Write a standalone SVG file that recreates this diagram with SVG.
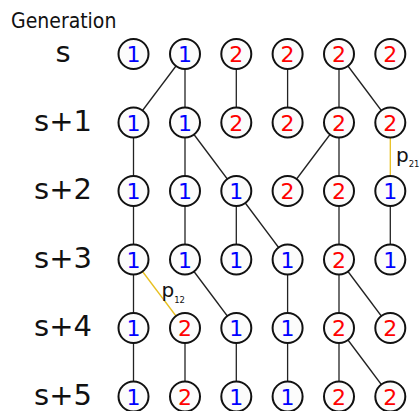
<svg xmlns="http://www.w3.org/2000/svg" width="420" height="411" viewBox="0 0 420 411">
<style>
.n circle{fill:#fcfcfc;stroke:#111;stroke-width:2}
.n text{font-family:"DejaVu Sans",sans-serif;font-size:22px;text-anchor:middle}
.b text{fill:#0000ff}
.r text{fill:#ff0000}
.lbl{font-family:"DejaVu Sans",sans-serif;font-size:29px;text-anchor:middle;fill:#111}
.e{stroke:#222;stroke-width:1.3;fill:none}
.y{stroke:#e8c020;stroke-width:1.3;fill:none}
.p{font-family:"DejaVu Sans",sans-serif;font-size:20px;fill:#111}
.sub{font-size:8.5px}
</style>
<rect width="420" height="411" fill="#fff"/>
<text x="11" y="28" font-family="DejaVu Sans Condensed, DejaVu Sans, sans-serif" font-stretch="condensed" font-size="21" fill="#111">Generation</text>
<g id="labels">
<text class="lbl" x="63" y="62">s</text>
<text class="lbl" x="63" y="130.5">s+1</text>
<text class="lbl" x="63" y="199">s+2</text>
<text class="lbl" x="63" y="267.5">s+3</text>
<text class="lbl" x="63" y="336">s+4</text>
<text class="lbl" x="63" y="404.5">s+5</text>
</g>
<g id="connectors">
<!-- s -> s+1 -->
<line class="e" x1="185" y1="54" x2="133.5" y2="122.5"/>
<line class="e" x1="185" y1="54" x2="185" y2="122.5"/>
<line class="e" x1="236.3" y1="54" x2="236.3" y2="122.5"/>
<line class="e" x1="287.6" y1="54" x2="287.6" y2="122.5"/>
<line class="e" x1="339" y1="54" x2="339" y2="122.5"/>
<line class="e" x1="339" y1="54" x2="390.3" y2="122.5"/>
<!-- s+1 -> s+2 -->
<line class="e" x1="133.5" y1="122.5" x2="133.5" y2="191"/>
<line class="e" x1="185" y1="122.5" x2="185" y2="191"/>
<line class="e" x1="185" y1="122.5" x2="236.3" y2="191"/>
<line class="e" x1="339" y1="122.5" x2="287.6" y2="191"/>
<line class="e" x1="339" y1="122.5" x2="339" y2="191"/>
<line class="y" x1="390.3" y1="122.5" x2="390.3" y2="191"/>
<!-- s+2 -> s+3 -->
<line class="e" x1="133.5" y1="191" x2="133.5" y2="259.5"/>
<line class="e" x1="185" y1="191" x2="185" y2="259.5"/>
<line class="e" x1="236.3" y1="191" x2="236.3" y2="259.5"/>
<line class="e" x1="236.3" y1="191" x2="287.6" y2="259.5"/>
<line class="e" x1="339" y1="191" x2="339" y2="259.5"/>
<line class="e" x1="390.3" y1="191" x2="390.3" y2="259.5"/>
<!-- s+3 -> s+4 -->
<line class="e" x1="133.5" y1="259.5" x2="133.5" y2="328"/>
<line class="y" x1="133.5" y1="259.5" x2="185" y2="328"/>
<line class="e" x1="185" y1="259.5" x2="236.3" y2="328"/>
<line class="e" x1="287.6" y1="259.5" x2="287.6" y2="328"/>
<line class="e" x1="339" y1="259.5" x2="339" y2="328"/>
<line class="e" x1="339" y1="259.5" x2="390.3" y2="328"/>
<!-- s+4 -> s+5 -->
<line class="e" x1="133.5" y1="328" x2="133.5" y2="396.5"/>
<line class="e" x1="185" y1="328" x2="185" y2="396.5"/>
<line class="e" x1="236.3" y1="328" x2="236.3" y2="396.5"/>
<line class="e" x1="287.6" y1="328" x2="287.6" y2="396.5"/>
<line class="e" x1="339" y1="328" x2="339" y2="396.5"/>
<line class="e" x1="339" y1="328" x2="390.3" y2="396.5"/>
</g>
<g id="edge-labels">
<text class="p" x="396" y="162">p<tspan class="sub" dy="5">21</tspan></text>
<text class="p" x="161.5" y="297">p<tspan class="sub" dy="6">12</tspan></text>
</g>
<!-- row s -->
<g id="n0_1" class="n b"><circle cx="133.5" cy="54" r="15"/><text x="133.5" y="62">1</text></g>
<g id="n0_2" class="n b"><circle cx="185" cy="54" r="15"/><text x="185" y="62">1</text></g>
<g id="n0_3" class="n r"><circle cx="236.3" cy="54" r="15"/><text x="236.3" y="62">2</text></g>
<g id="n0_4" class="n r"><circle cx="287.6" cy="54" r="15"/><text x="287.6" y="62">2</text></g>
<g id="n0_5" class="n r"><circle cx="339" cy="54" r="15"/><text x="339" y="62">2</text></g>
<g id="n0_6" class="n r"><circle cx="390.3" cy="54" r="15"/><text x="390.3" y="62">2</text></g>
<!-- row s+1 -->
<g id="n1_1" class="n b"><circle cx="133.5" cy="122.5" r="15"/><text x="133.5" y="130.5">1</text></g>
<g id="n1_2" class="n b"><circle cx="185" cy="122.5" r="15"/><text x="185" y="130.5">1</text></g>
<g id="n1_3" class="n r"><circle cx="236.3" cy="122.5" r="15"/><text x="236.3" y="130.5">2</text></g>
<g id="n1_4" class="n r"><circle cx="287.6" cy="122.5" r="15"/><text x="287.6" y="130.5">2</text></g>
<g id="n1_5" class="n r"><circle cx="339" cy="122.5" r="15"/><text x="339" y="130.5">2</text></g>
<g id="n1_6" class="n r"><circle cx="390.3" cy="122.5" r="15"/><text x="390.3" y="130.5">2</text></g>
<!-- row s+2 -->
<g id="n2_1" class="n b"><circle cx="133.5" cy="191" r="15"/><text x="133.5" y="199">1</text></g>
<g id="n2_2" class="n b"><circle cx="185" cy="191" r="15"/><text x="185" y="199">1</text></g>
<g id="n2_3" class="n b"><circle cx="236.3" cy="191" r="15"/><text x="236.3" y="199">1</text></g>
<g id="n2_4" class="n r"><circle cx="287.6" cy="191" r="15"/><text x="287.6" y="199">2</text></g>
<g id="n2_5" class="n r"><circle cx="339" cy="191" r="15"/><text x="339" y="199">2</text></g>
<g id="n2_6" class="n b"><circle cx="390.3" cy="191" r="15"/><text x="390.3" y="199">1</text></g>
<!-- row s+3 -->
<g id="n3_1" class="n b"><circle cx="133.5" cy="259.5" r="15"/><text x="133.5" y="267.5">1</text></g>
<g id="n3_2" class="n b"><circle cx="185" cy="259.5" r="15"/><text x="185" y="267.5">1</text></g>
<g id="n3_3" class="n b"><circle cx="236.3" cy="259.5" r="15"/><text x="236.3" y="267.5">1</text></g>
<g id="n3_4" class="n b"><circle cx="287.6" cy="259.5" r="15"/><text x="287.6" y="267.5">1</text></g>
<g id="n3_5" class="n r"><circle cx="339" cy="259.5" r="15"/><text x="339" y="267.5">2</text></g>
<g id="n3_6" class="n b"><circle cx="390.3" cy="259.5" r="15"/><text x="390.3" y="267.5">1</text></g>
<!-- row s+4 -->
<g id="n4_1" class="n b"><circle cx="133.5" cy="328" r="15"/><text x="133.5" y="336">1</text></g>
<g id="n4_2" class="n r"><circle cx="185" cy="328" r="15"/><text x="185" y="336">2</text></g>
<g id="n4_3" class="n b"><circle cx="236.3" cy="328" r="15"/><text x="236.3" y="336">1</text></g>
<g id="n4_4" class="n b"><circle cx="287.6" cy="328" r="15"/><text x="287.6" y="336">1</text></g>
<g id="n4_5" class="n r"><circle cx="339" cy="328" r="15"/><text x="339" y="336">2</text></g>
<g id="n4_6" class="n r"><circle cx="390.3" cy="328" r="15"/><text x="390.3" y="336">2</text></g>
<!-- row s+5 -->
<g id="n5_1" class="n b"><circle cx="133.5" cy="396.5" r="15"/><text x="133.5" y="404.5">1</text></g>
<g id="n5_2" class="n r"><circle cx="185" cy="396.5" r="15"/><text x="185" y="404.5">2</text></g>
<g id="n5_3" class="n b"><circle cx="236.3" cy="396.5" r="15"/><text x="236.3" y="404.5">1</text></g>
<g id="n5_4" class="n b"><circle cx="287.6" cy="396.5" r="15"/><text x="287.6" y="404.5">1</text></g>
<g id="n5_5" class="n r"><circle cx="339" cy="396.5" r="15"/><text x="339" y="404.5">2</text></g>
<g id="n5_6" class="n r"><circle cx="390.3" cy="396.5" r="15"/><text x="390.3" y="404.5">2</text></g>
</svg>
